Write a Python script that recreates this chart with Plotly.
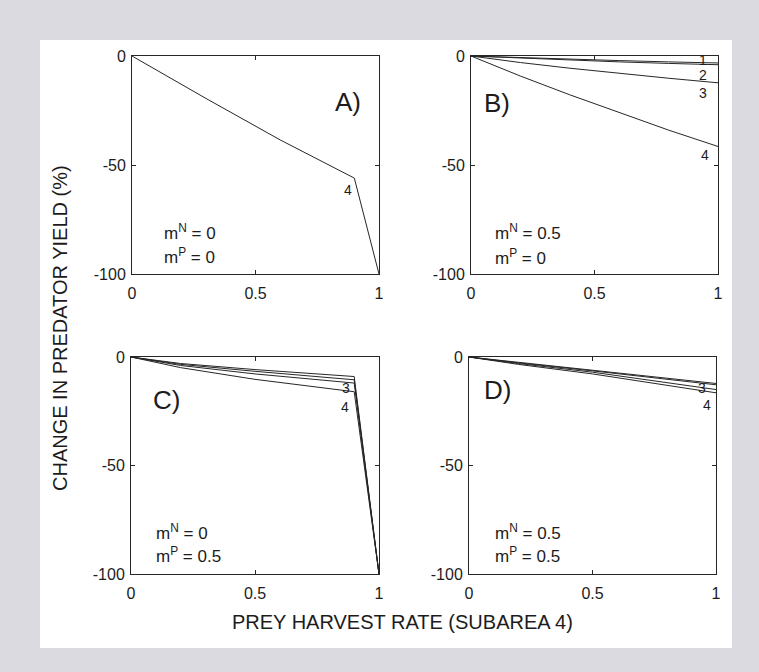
import plotly.graph_objects as go

W, H = 759, 672

# ---------------- data ----------------
harvest_A = [0, 0.3, 0.6, 0.9, 1.0]
A_sub4 = [0, -19.5, -38.5, -56, -100]

harvest_B = [0, 0.2, 0.4, 0.6, 0.8, 1.0]
B_sub1 = [0, -0.8, -1.5, -2.1, -2.7, -3.2]
B_sub2 = [0, -1.0, -1.9, -2.7, -3.4, -4.0]
B_sub3 = [0, -3.0, -5.6, -8.0, -10.2, -12.3]
B_sub4 = [0, -9.2, -17.8, -26.0, -34.0, -41.5]

harvest_C = [0, 0.1, 0.2, 0.5, 0.9, 1.0]
C_sub1 = [0, -1.6, -3.0, -5.8, -9.0, -100]
C_sub2 = [0, -1.8, -3.4, -6.6, -10.5, -100]
C_sub3 = [0, -2.1, -3.9, -7.8, -12.0, -100]
C_sub4 = [0, -2.6, -4.9, -10.3, -16.0, -100]

harvest_D = [0, 0.2, 0.5, 1.0]
D_sub1 = [0, -2.5, -6.0, -12.2]
D_sub2 = [0, -2.7, -6.4, -12.8]
D_sub3 = [0, -3.0, -7.0, -15.0]
D_sub4 = [0, -3.4, -7.8, -16.5]

x_ticks = [0, 0.5, 1]
x_ticktext = ["0", "0.5", "1"]
y_ticks = [0, -50, -100]
y_ticktext = ["0", "-50", "-100"]

panel_letters = ["A)", "B)", "C)", "D)"]
mN_text = ["0", "0.5", "0", "0.5"]
mP_text = ["0", "0", "0.5", "0.5"]

# ---------------- layout geometry (pixels) ----------------
def px_x(v):
    return v / W

def px_y(v):
    return 1 - v / H

panels = [
    dict(x0=132, x1=379, y0=56, y1=274),
    dict(x0=471, x1=718, y0=56, y1=274),
    dict(x0=131, x1=379, y0=357, y1=574),
    dict(x0=469, x1=716, y0=357, y1=574),
]

LINE = "#262626"
TXT = "#1c1c1c"
FONT = "Liberation Sans, Arial, sans-serif"
GRAY = "#dadae0"

fig = go.Figure()

series = [
    [(harvest_A, A_sub4)],
    [(harvest_B, B_sub1), (harvest_B, B_sub2), (harvest_B, B_sub3), (harvest_B, B_sub4)],
    [(harvest_C, C_sub1), (harvest_C, C_sub2), (harvest_C, C_sub3), (harvest_C, C_sub4)],
    [(harvest_D, D_sub1), (harvest_D, D_sub2), (harvest_D, D_sub3), (harvest_D, D_sub4)],
]

for i, ser in enumerate(series):
    sfx = "" if i == 0 else str(i + 1)
    for xs, ys in ser:
        fig.add_trace(go.Scatter(x=xs, y=ys, mode="lines",
                                 line=dict(color=LINE, width=1),
                                 xaxis="x" + sfx, yaxis="y" + sfx,
                                 showlegend=False, hoverinfo="skip"))

layout_axes = {}
for i, p in enumerate(panels):
    sfx = "" if i == 0 else str(i + 1)
    layout_axes["xaxis" + sfx] = dict(
        domain=[px_x(p["x0"]), px_x(p["x1"])],
        anchor="y" + sfx, range=[0, 1],
        tickvals=x_ticks, ticktext=x_ticktext,
        ticks="inside", ticklen=4, tickcolor=LINE, tickwidth=1,
        showline=True, linecolor=LINE, linewidth=1, mirror="ticks",
        showgrid=False, zeroline=False, automargin=False,
        tickfont=dict(family=FONT, size=16, color=TXT),
        ticklabelstandoff=5,
    )
    layout_axes["yaxis" + sfx] = dict(
        domain=[px_y(p["y1"]), px_y(p["y0"])],
        anchor="x" + sfx, range=[-100, 0],
        tickvals=y_ticks, ticktext=y_ticktext,
        ticks="inside", ticklen=4, tickcolor=LINE, tickwidth=1,
        showline=True, linecolor=LINE, linewidth=1, mirror="ticks",
        showgrid=False, zeroline=False, automargin=False,
        tickfont=dict(family=FONT, size=16, color=TXT),
        ticklabelstandoff=2,
    )

annotations = []

def ann(x, y, text, size, xanchor="center", yanchor="middle", angle=0):
    annotations.append(dict(x=px_x(x), y=px_y(y), xref="paper", yref="paper",
                            text=text, showarrow=False, xanchor=xanchor,
                            yanchor=yanchor, textangle=angle,
                            font=dict(family=FONT, size=size, color=TXT)))

# panel letters
letter_pos = [(348, 102), (497, 103), (166, 400), (497, 390)]
for (x, y), t in zip(letter_pos, panel_letters):
    ann(x, y, t, 26)

# parameter text
param_pos = [(162, 232, 256), (493, 232, 257), (154, 532, 555), (493, 532, 555)]
for (x, y1, y2), n, pv in zip(param_pos, mN_text, mP_text):
    ann(x, y1, "m<sup>N</sup> = " + n, 17, xanchor="left")
    ann(x, y2, "m<sup>P</sup> = " + pv, 17, xanchor="left")

# line labels
line_labels = [
    (348, 190, "4"),
    (703, 60, "1"), (703, 75, "2"), (703, 93, "3"), (705, 155, "4"),
    (346, 388, "3"), (345, 407, "4"),
    (702, 388, "3"), (707, 405, "4"),
]
for x, y, t in line_labels:
    ann(x, y, t, 14)

# axis titles
ann(402, 622, "PREY HARVEST RATE (SUBAREA 4)", 20)
ann(60, 328, "CHANGE IN PREDATOR YIELD (%)", 20, angle=-90)

fig.update_layout(
    width=W, height=H,
    margin=dict(l=0, r=0, t=0, b=0, pad=0, autoexpand=False),
    paper_bgcolor=GRAY,
    plot_bgcolor="white",
    annotations=annotations,
    shapes=[dict(type="rect", xref="paper", yref="paper",
                 x0=px_x(40), x1=px_x(732), y0=px_y(648), y1=px_y(40),
                 fillcolor="white", line=dict(width=0), layer="below")],
    **layout_axes,
)

fig.write_html(
    "out.html",
    config={"displayModeBar": False, "staticPlot": True},
    post_script="document.body.style.margin='0';document.body.style.padding='0';"
                "document.body.style.overflow='hidden';"
                "document.body.style.background='" + GRAY + "';",
)
